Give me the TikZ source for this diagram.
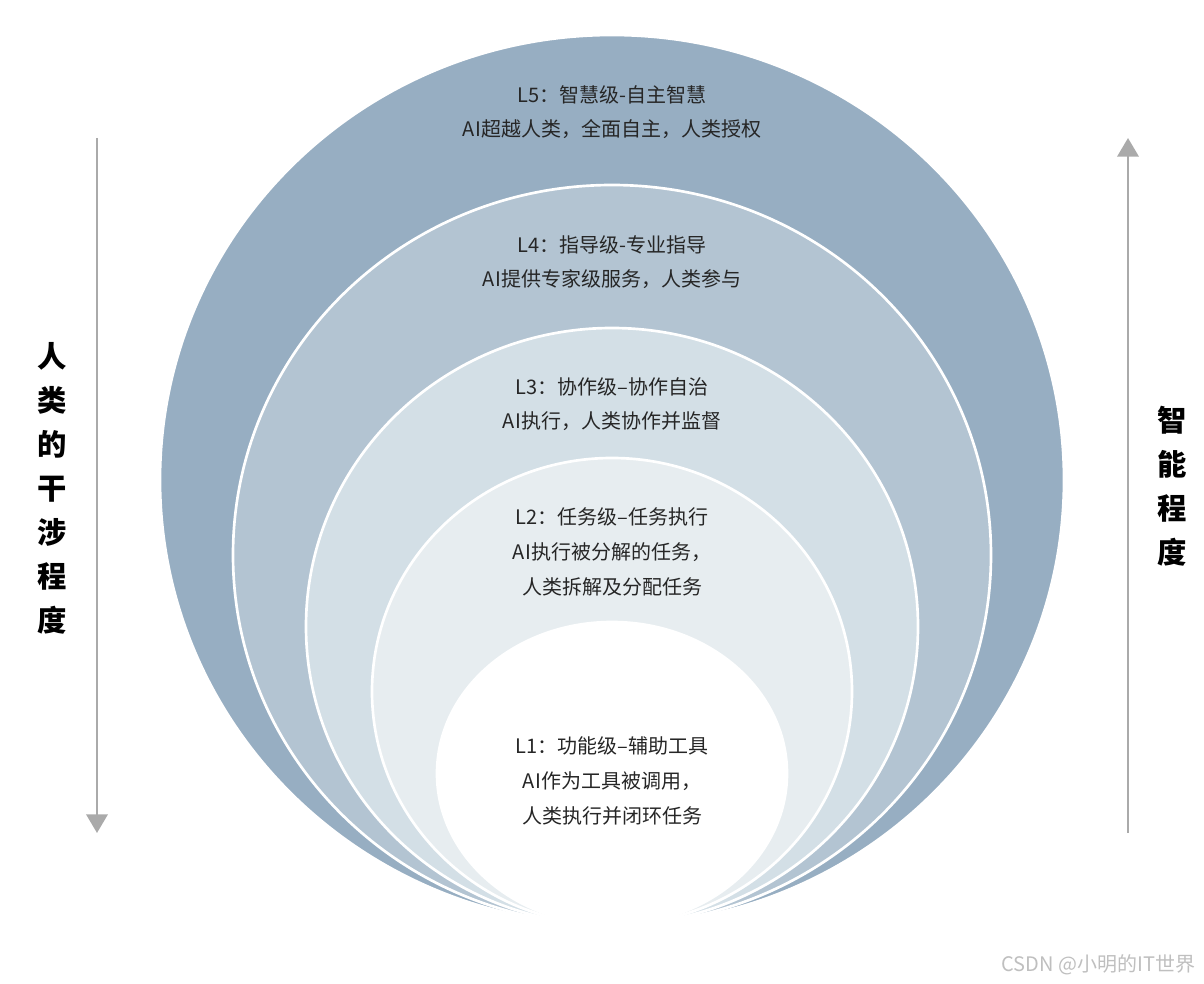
\documentclass[tikz,border=0pt]{standalone}
\usepackage{fontspec}
\setmainfont{Noto Sans CJK SC}
\usetikzlibrary{arrows.meta}
\definecolor{levelA}{HTML}{97AEC2}
\definecolor{levelB}{HTML}{B3C4D2}
\definecolor{levelC}{HTML}{D3DFE6}
\definecolor{levelD}{HTML}{E7EDF0}
\definecolor{axisgray}{HTML}{AAAAAA}
\tikzset{
  ring/.style={draw=white, line width=2pt},
  lbl/.style={font=\fontsize{15}{26}\selectfont, align=center, text=black!85},
  side/.style={font=\fontsize{22}{33}\selectfont\bfseries, align=center},
  axis/.style={axisgray, line width=2pt, -{Triangle[length=14pt,width=16pt]}}
}
\begin{document}
\begin{tikzpicture}[x=0.75pt,y=-0.75pt]
  \useasboundingbox (0,0) rectangle (1204,984);
  % levels, outer to inner
  \filldraw[ring, fill=levelA] (612,480) ellipse [x radius=452, y radius=445];
  \filldraw[ring, fill=levelB] (612,555) ellipse [x radius=379, y radius=370];
  \filldraw[ring, fill=levelC] (612,626.5) ellipse [x radius=306, y radius=298.5];
  \filldraw[ring, fill=levelD] (612,691.5) ellipse [x radius=240, y radius=233.5];
  \filldraw[ring, fill=white] (612,773.5) ellipse [x radius=175, y radius=151.5];
  % labels
  \node[lbl] (t5) at (612,112) {L5：智慧级-自主智慧\\AI超越人类，全面自主，人类授权};
  \node[lbl] (t4) at (612,262) {L4：指导级-专业指导\\AI提供专家级服务，人类参与};
  \node[lbl] (t3) at (612,404) {L3：协作级–协作自治\\AI执行，人类协作并监督};
  \node[lbl] (t2) at (612,552) {L2：任务级–任务执行\\AI执行被分解的任务，\\人类拆解及分配任务};
  \node[lbl] (t1) at (612,781) {L1：功能级–辅助工具\\AI作为工具被调用，\\人类执行并闭环任务};
  % axes
  \coordinate (ltop) at (97,138);
  \coordinate (lbot) at (97,833);
  \coordinate (rbot) at (1128,833);
  \coordinate (rtop) at (1128,138);
  \draw[axis] (ltop) -- (lbot);
  \draw[axis] (rbot) -- (rtop);
  \node[side] (human) at (52,488) {人\\类\\的\\干\\涉\\程\\度};
  \node[side] (smart) at (1172,486) {智\\能\\程\\度};
  \node[font=\fontsize{15}{18}\selectfont, text=black!25, anchor=east] (mark) at (1200,965) {CSDN @小明的IT世界};
\end{tikzpicture}
\end{document}
